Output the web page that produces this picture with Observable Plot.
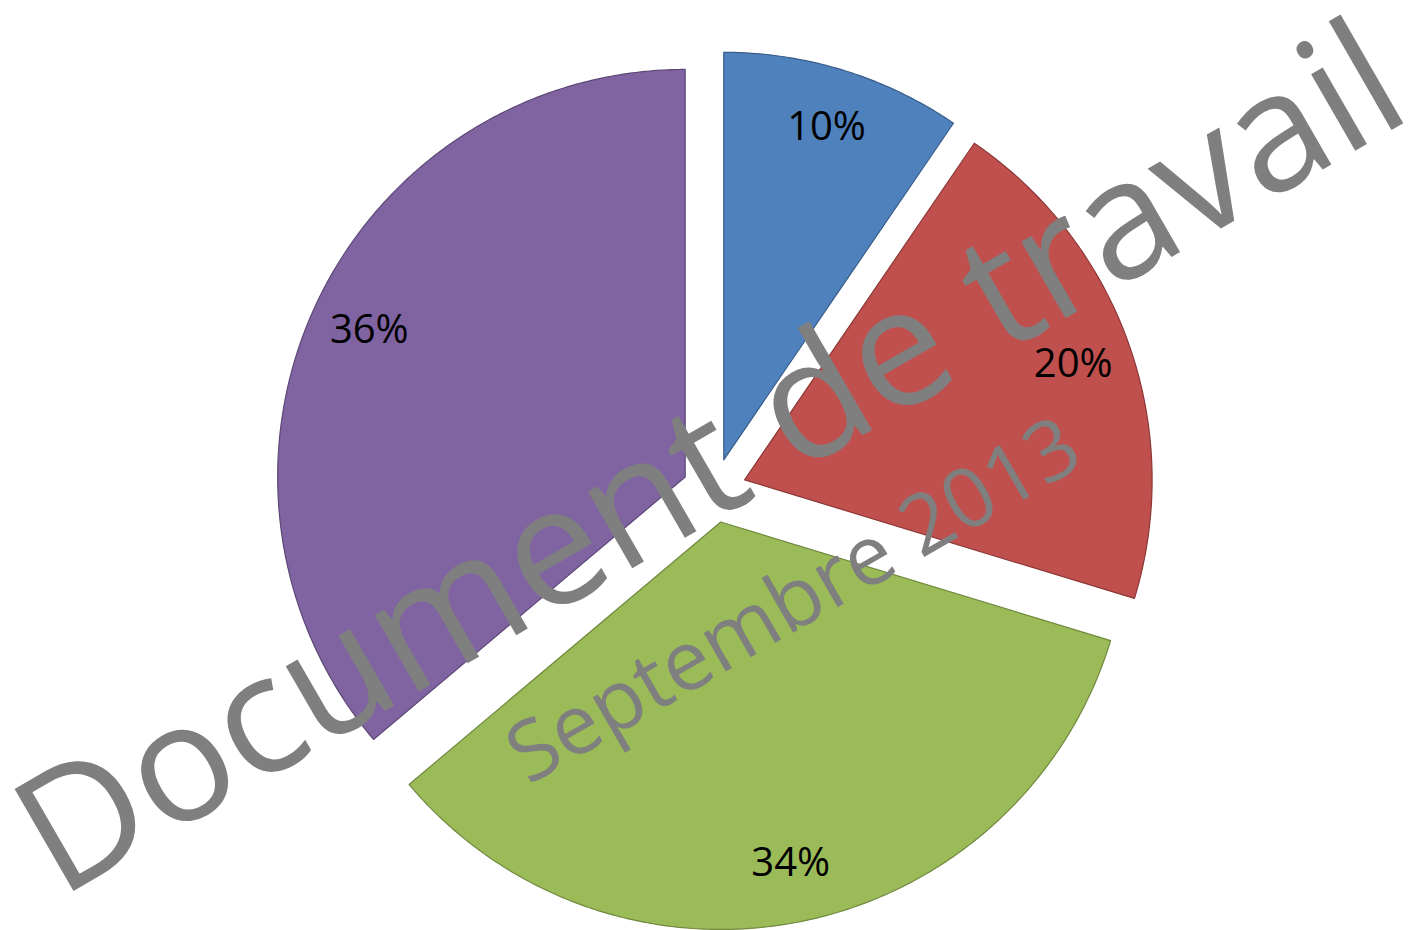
<!DOCTYPE html>
<html>
<head>
<meta charset="utf-8">
<script src="https://cdn.jsdelivr.net/npm/d3@7"></script>
<script src="https://cdn.jsdelivr.net/npm/@observablehq/plot@0.6"></script>
<style>
  html, body { margin: 0; padding: 0; background: #fff; }
  #chart { width: 1408px; height: 930px; overflow: hidden; }
</style>
</head>
<body>
<div id="chart"></div>
<script>
// ---- data ----
const categories = ["Part 1", "Part 2", "Part 3", "Part 4"];
const values = [9.53, 20.17, 34.16, 36.14];
const percentLabels = ["10%", "20%", "34%", "36%"];
const fillColors = ["#4F81BD", "#C0504D", "#9BBB59", "#8064A2"];
const strokeColors = ["#385D8A", "#8C3836", "#71893F", "#5C4776"];
const watermarkTexts = ["Document de travail", "Septembre 2013"];

// ---- layout (unit circle coordinates) ----
const explode = 0.0788;
const labelRadius = 0.855;
const FONT = "'Open Sans', 'DejaVu Sans', sans-serif";
const CX = 713.8, CY = 490, R = 407.5, W = 1408, H = 930;

const pie = d3.pie().sort(null).value(d => d)(values);
const slices = pie.map((p, i) => {
  const mid = (p.startAngle + p.endAngle) / 2;
  const ox = explode * Math.sin(mid), oy = explode * Math.cos(mid);
  const pts = [{cat: categories[i], x: ox, y: oy}];
  const n = Math.max(8, Math.ceil((p.endAngle - p.startAngle) / (Math.PI / 360)));
  for (let k = 0; k <= n; k++) {
    const a = p.startAngle + (p.endAngle - p.startAngle) * k / n;
    pts.push({cat: categories[i], x: ox + Math.sin(a), y: oy + Math.cos(a)});
  }
  return {
    i, pts,
    label: {text: percentLabels[i], x: ox + labelRadius * Math.sin(mid), y: oy + labelRadius * Math.cos(mid)}
  };
});

const watermarks = [
  {text: watermarkTexts[0], x: 0.0569, y: -0.0417, size: 165, len: 1566},
  {text: watermarkTexts[1], x: 0.2287, y: -0.3288, size: 83, len: 645}
];

const plot = Plot.plot({
  width: W,
  height: H,
  margin: 0,
  x: {domain: [-CX / R, (W - CX) / R], axis: null},
  y: {domain: [-(H - CY) / R, CY / R], axis: null},
  style: {background: "white", fontFamily: FONT},
  marks: [
    ...slices.map(s => Plot.line(s.pts, {
      x: "x", y: "y", curve: "linear-closed",
      fill: fillColors[s.i], stroke: strokeColors[s.i], strokeWidth: 1.2
    })),
    Plot.text(slices.map(s => s.label), {
      x: "x", y: "y", text: "text", fontSize: 40, fill: "black",
      fontFamily: FONT, textAnchor: "middle", lineAnchor: "middle"
    }),
    ...watermarks.map((w, k) => Plot.text([w], {
      x: "x", y: "y", text: "text", rotate: -30, fontSize: w.size,
      fill: "#7f7f7f", fontFamily: FONT, textAnchor: "middle", lineAnchor: "bottom",
      className: "wm" + k
    }))
  ]
});

document.getElementById("chart").appendChild(plot);
watermarks.forEach((w, k) => {
  d3.select(plot).selectAll(".wm" + k + " text")
    .attr("textLength", w.len)
    .attr("lengthAdjust", "spacingAndGlyphs");
});
</script>
</body>
</html>
